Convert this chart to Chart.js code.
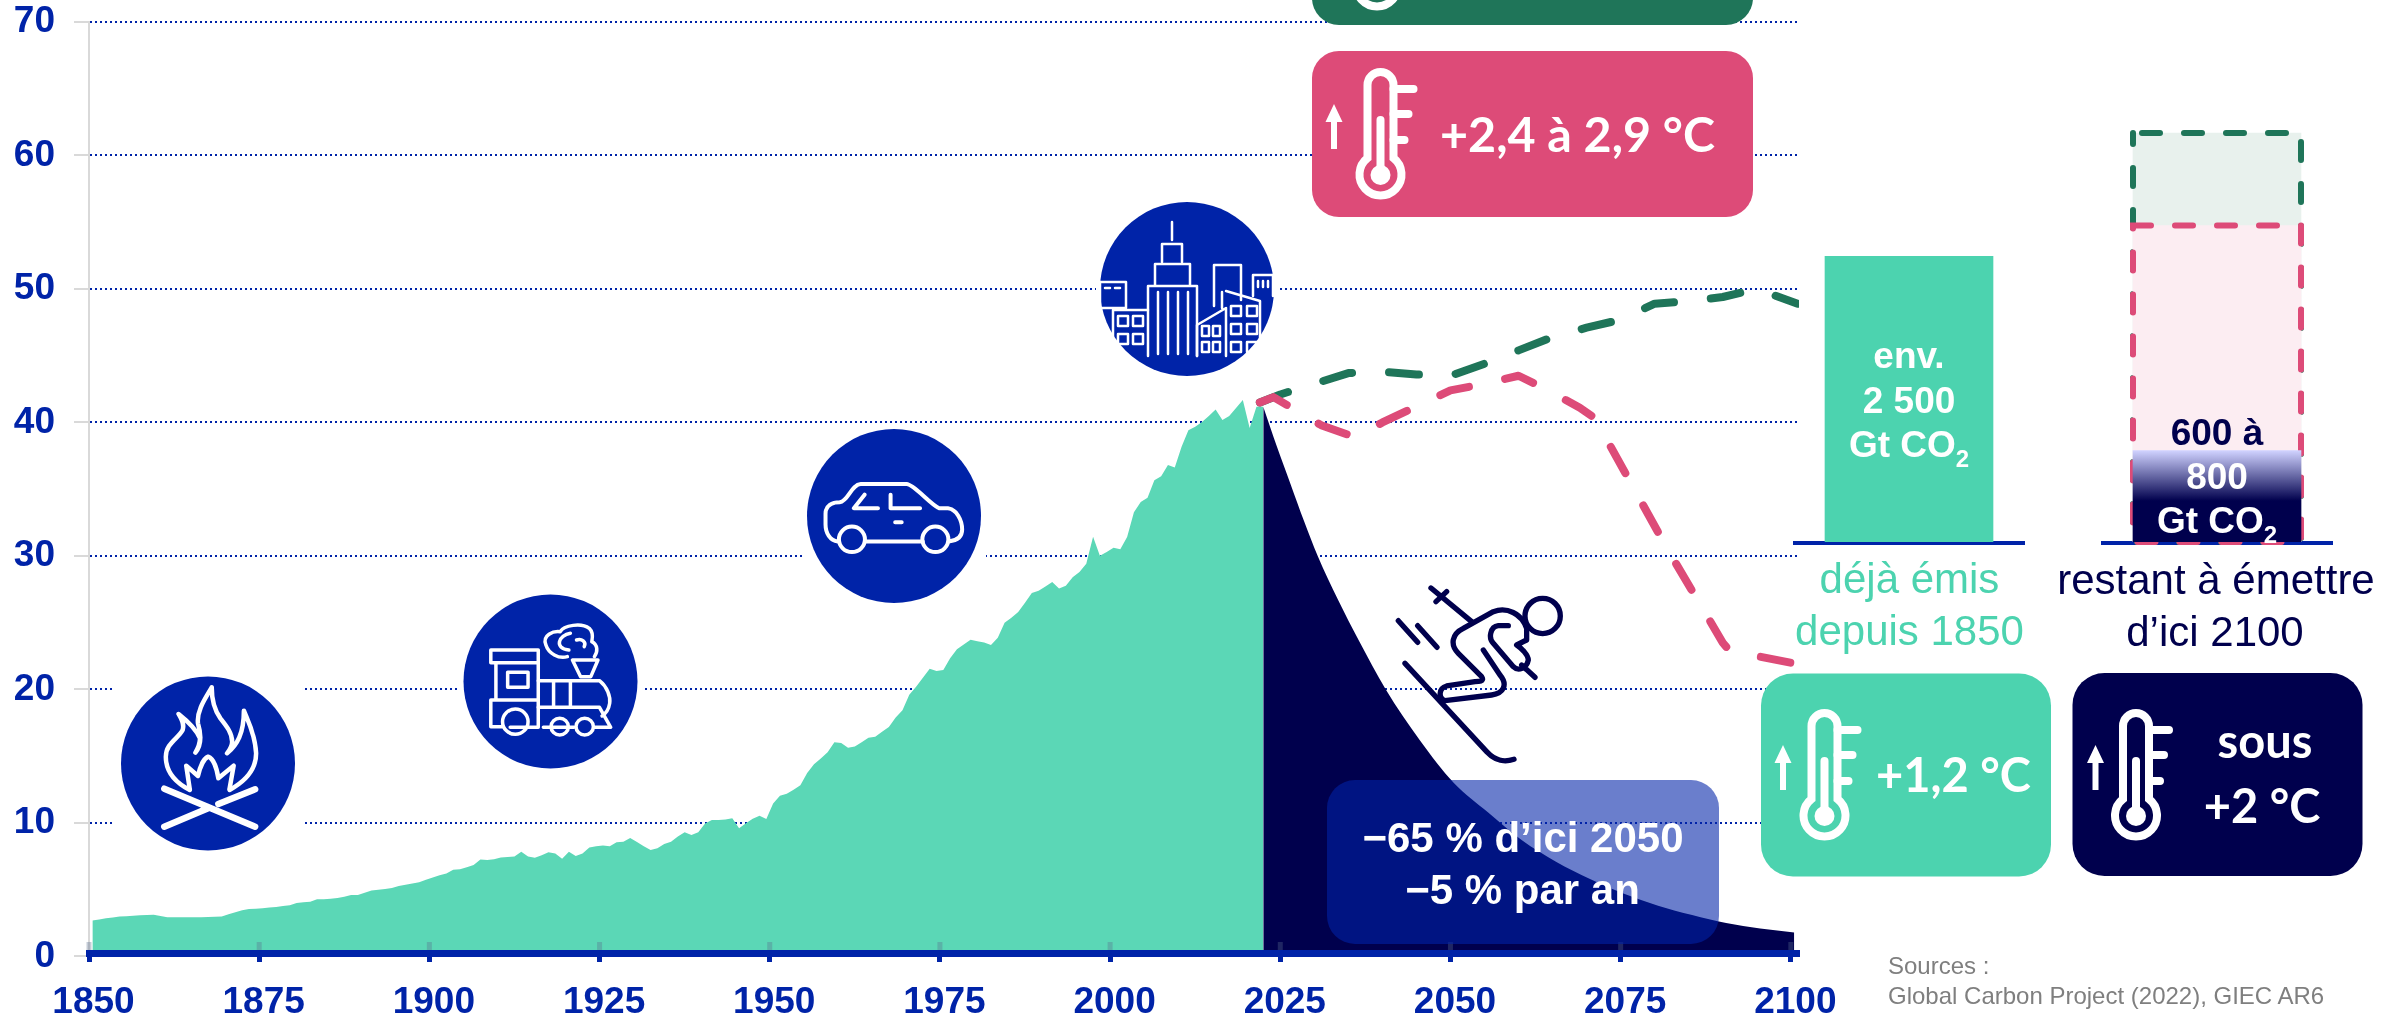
<!DOCTYPE html>
<html lang="fr">
<head>
<meta charset="utf-8">
<title>Émissions mondiales de CO2</title>
<script src="https://cdn.jsdelivr.net/npm/chart.js@4/dist/chart.umd.min.js"></script>
<style>
    html, body { margin: 0; padding: 0; background: #fff; }
    #stage { position: relative; width: 2399px; height: 1017px; overflow: hidden; }
    #stage canvas, #stage svg { position: absolute; }
    #mainChart { left: 0; top: 0; }
    #budgetChart { left: 1755px; top: 85px; }
    #overlay { left: 0; top: 0; }
    text { font-family: "Liberation Sans", Arial, sans-serif; }
    .ic * { vector-effect: non-scaling-stroke; fill: none; stroke: #fff; stroke-linecap: round; stroke-linejoin: round; }
    .big { font-family: Lato, sans-serif; font-weight: 700; font-size: 47px; fill: #fff; }
    .bar { font-weight: 700; font-size: 37px; fill: #fff; text-anchor: middle; }
    .cap { font-size: 42px; text-anchor: middle; }
    .src { font-size: 24px; fill: #7f7f7f; }
</style>
</head>
<body>
<div id="stage">
    <canvas id="mainChart" width="2399" height="1017"></canvas>
    <canvas id="budgetChart" width="616" height="472"></canvas>
    <svg id="overlay" width="2399" height="1017" viewBox="0 0 2399 1017">
        <defs>
            <g id="thermo" fill="none" stroke="#fff" stroke-width="8" stroke-linecap="round">
                <path d="M-13 90V17A13 13 0 0 1 13 17V90A21 21 0 1 1 -13 90Z"/>
                <path d="M13 21H33M13 46H28M13 72H24"/>
                <path d="M0 52V105"/>
                <circle cx="0" cy="107" r="10" fill="#fff" stroke="none"/>
            </g>
            <path id="arrow" fill="#fff" d="M0 36L8.5 54H3V81H-3V54H-8.5Z"/>
        </defs>

        <!-- pictos : fond blanc carre qui coupe la grille -->
        <rect x="115" y="670" width="187" height="187" fill="#fff"/>
        <rect x="458" y="589" width="185" height="186" fill="#fff"/>
        <rect x="802" y="423" width="184" height="186" fill="#fff"/>
        <rect x="1096" y="196" width="182" height="186" fill="#fff"/>
        <circle cx="208" cy="763.5" r="87" fill="#0023a8"/>
        <circle cx="550.5" cy="681.5" r="87" fill="#0023a8"/>
        <circle cx="894" cy="516" r="87" fill="#0023a8"/>
        <circle cx="1187" cy="289" r="87" fill="#0023a8"/>

        <!-- feu -->
        <g class="ic" transform="translate(0,500) scale(0.5102,0.3333)">
            <path style="stroke-width:4.5" d="M372 870C340 845 325 810 325 770C325 730 350 715 358 690C362 670 355 655 350 642C365 660 385 690 392 715C392 730 388 745 383 758C395 735 395 705 388 670C385 630 405 590 415 562C415 600 420 630 432 655C445 680 455 700 455 725C455 740 450 750 445 760C465 735 478 700 478 632C485 660 500 700 502 760C502 810 480 845 450 870"/>
            <path style="stroke-width:4.5" d="M372 868L365 797L388 828C392 800 400 775 408 770C418 775 425 805 428 835L458 797L450 866"/>
            <path style="stroke-width:6.5" d="M322 866L500 980M322 980L408 925M428 912L500 868"/>
        </g>
        <!-- train -->
        <g class="ic" transform="translate(0,500) scale(0.5102,0.3333)">
            <path style="stroke-width:3.5" d="M962 450H1055V488H962ZM972 488V600M1055 488V682H1000M962 600H1055M962 600V680H985"/>
            <path style="stroke-width:3.5" d="M995 517H1035V562H995Z"/>
            <path style="stroke-width:3.5" d="M1055 542H1175C1190 560 1197 590 1195 610C1193 630 1188 640 1180 648M1085 542V622M1118 542V622M1055 622H1175L1197 682H1165M1125 682H1065"/>
            <path style="stroke-width:3.5" d="M1122 480H1172L1158 530H1138Z"/>
            <ellipse style="stroke-width:3.5" cx="1010" cy="665" rx="25" ry="38"/>
            <ellipse style="stroke-width:3.5" cx="1097" cy="680" rx="17" ry="25"/>
            <ellipse style="stroke-width:3.5" cx="1146" cy="680" rx="17" ry="25"/>
            <path style="stroke-width:3.5" d="M1112 470C1095 478 1075 460 1070 435C1062 405 1085 392 1098 395C1105 375 1140 368 1155 385C1165 400 1160 420 1160 425C1172 435 1172 455 1165 470M1118 400C1095 405 1085 445 1115 450M1130 420C1140 415 1150 425 1145 440"/>
        </g>
        <!-- voiture -->
        <g class="ic" transform="translate(700,350) scale(0.3827,0.4255)">
            <path style="stroke-width:4" d="M360 450C340 448 328 430 328 410V385C328 365 345 358 365 358C388 355 395 316 420 315H540C560 316 600 362 625 372H648C670 374 685 400 685 422C685 440 672 448 650 450M432 450H582"/>
            <path style="stroke-width:4" d="M430 340L402 372H465M498 340V372H575M510 405H527"/>
            <ellipse style="stroke-width:4" cx="397" cy="445" rx="34" ry="30"/>
            <ellipse style="stroke-width:4" cx="615" cy="445" rx="34" ry="30"/>
        </g>
        <!-- ville -->
        <g class="ic">
            <path style="stroke-width:2.5" d="M1172 222V240M1162 262V244H1182V262M1155 285V264H1190V285M1148 356V286H1197V356M1158 292V354M1168 292V354M1178 292V354M1188 292V354"/>
            <path style="stroke-width:2.5" d="M1113 356V310H1148M1100 282H1126V308H1100ZM1105 288H1110M1115 288H1120M1118 316H1128V326H1118ZM1133 316H1143V326H1133ZM1118 334H1128V344H1118ZM1133 334H1143V344H1133Z"/>
            <path style="stroke-width:2.5" d="M1214 306V265H1241V300M1253 296V275H1273V296M1258 281V287M1263 281V287M1268 281V287"/>
            <path style="stroke-width:2.5" d="M1197 356V325L1226 308V356M1226 291L1260 301V352M1222 292V308"/>
            <path style="stroke-width:2.5" d="M1231 306H1241V316H1231ZM1247 306H1257V316H1247ZM1231 324H1241V334H1231ZM1247 324H1257V334H1247ZM1231 342H1241V352H1231ZM1247 342H1257V352H1247ZM1202 326H1209V336H1202ZM1213 326H1220V336H1213ZM1202 342H1209V352H1202ZM1213 342H1220V352H1213Z"/>
        </g>

        <!-- skieur -->
        <g transform="translate(1300,560) scale(0.3333)" fill="none" stroke="#00004d" stroke-width="16" stroke-linecap="round" stroke-linejoin="round">
            <circle cx="728" cy="168" r="53"/>
            <path d="M393 84L515 185M408 125L440 95M295 182L353 247M353 197L411 262"/>
            <path d="M315 310L560 575C585 602 610 608 642 598"/>
            <path d="M680 205C665 160 620 140 580 155L490 205C455 222 450 255 475 280L545 350C555 365 535 365 525 365L440 378C415 385 415 415 435 422L575 405C610 400 625 375 600 345L550 270"/>
            <path d="M625 197H595C570 200 565 235 580 250L640 320C655 335 680 325 685 300C685 285 665 265 650 255L680 240V210M665 315L705 352"/>
        </g>

        <!-- encadres temperature -->
        <rect x="1312" y="-141" width="441" height="166" rx="27" fill="#1f7559"/>
        <use href="#thermo" x="1377" y="-121"/>
        <rect x="1312" y="51" width="441" height="166" rx="27" fill="#dd4b78"/>
        <use href="#thermo" x="1380.5" y="68"/>
        <use href="#arrow" x="1334" y="68"/>
        <text class="big" x="1440" y="152" style="font-size:48.4px">+2,4 à 2,9 °C</text>

        <rect x="1761" y="673.5" width="290" height="203" rx="32" fill="#4cd3af"/>
        <use href="#thermo" x="1824.5" y="709"/>
        <use href="#arrow" x="1783" y="709"/>
        <text class="big" x="1876" y="792">+1,2 °C</text>

        <rect x="2072.5" y="673" width="290" height="203" rx="32" fill="#00004d"/>
        <use href="#thermo" x="2136" y="709"/>
        <use href="#arrow" x="2095.5" y="709"/>
        <text class="big" x="2265" y="758" text-anchor="middle">sous</text>
        <text class="big" x="2262" y="823" text-anchor="middle">+2 °C</text>

        <!-- encadre baisse -->
        <rect x="1327" y="780" width="392" height="164" rx="28" fill="#0023a8" fill-opacity="0.585"/>
        <text x="1523" y="852" text-anchor="middle" font-weight="700" font-size="42" fill="#fff">−65 % d’ici 2050</text>
        <text x="1522.5" y="903.5" text-anchor="middle" font-weight="700" font-size="42" fill="#fff">−5 % par an</text>

        <!-- textes des barres -->
        <text class="bar" x="1909" y="368">env.</text>
        <text class="bar" x="1909" y="412.5">2 500</text>
        <text class="bar" x="1909" y="457">Gt CO<tspan font-size="24" dy="10">2</tspan></text>
        <text class="bar" x="2217" y="444.5" style="fill:#00004d">600 à</text>
        <text class="bar" x="2217" y="488.5">800</text>
        <text class="bar" x="2217" y="533">Gt CO<tspan font-size="24" dy="10">2</tspan></text>

        <text class="cap" x="1909.5" y="593" fill="#4cd3af">déjà émis</text>
        <text class="cap" x="1909.5" y="644.5" fill="#4cd3af">depuis 1850</text>
        <text class="cap" x="2216" y="594" fill="#00004d">restant à émettre</text>
        <text class="cap" x="2215" y="646" fill="#00004d">d’ici 2100</text>

        <text class="src" x="1888" y="974">Sources :</text>
        <text class="src" x="1888" y="1004">Global Carbon Project (2022), GIEC AR6</text>
    </svg>
</div>

<script>
// émissions historiques, une valeur par an à partir de 1850
const histStart = 1850;
const histValues = [
    2.69, 2.77, 2.86, 2.92, 2.99, 3.02, 3.05, 3.08, 3.10, 3.12,
    3.03, 2.94, 2.94, 2.94, 2.94, 2.94, 2.94, 2.96, 2.97, 2.99,
    3.16, 3.31, 3.46, 3.56, 3.57, 3.61, 3.66, 3.70, 3.79, 3.84,
    4.00, 4.06, 4.10, 4.28, 4.29, 4.33, 4.38, 4.48, 4.60, 4.60,
    4.78, 4.95, 5.00, 5.05, 5.13, 5.28, 5.38, 5.46, 5.56, 5.74,
    5.91, 6.09, 6.21, 6.49, 6.54, 6.69, 6.86, 7.27, 7.22, 7.29,
    7.42, 7.46, 7.49, 7.84, 7.49, 7.39, 7.59, 7.80, 7.72, 7.32,
    7.84, 7.52, 7.72, 8.17, 8.25, 8.32, 8.25, 8.55, 8.60, 8.88,
    8.58, 8.25, 7.97, 8.10, 8.42, 8.60, 8.98, 9.31, 9.10, 9.31,
    9.96, 10.22, 10.22, 10.26, 10.35, 9.61, 9.98, 10.32, 10.55, 10.30,
    11.45, 12.04, 12.19, 12.49, 12.82, 13.75, 14.40, 14.83, 15.29, 16.04,
    15.99, 15.63, 15.73, 16.04, 16.39, 16.46, 16.84, 17.19, 17.90, 18.45,
    19.60, 20.20, 20.88, 21.56, 21.38, 21.46, 22.34, 23.02, 23.37, 23.72,
    23.62, 23.52, 23.34, 23.87, 25.00, 25.38, 25.81, 26.49, 27.22, 27.40,
    27.72, 28.05, 27.57, 27.77, 28.40, 28.80, 29.42, 31.45, 30.02, 30.30,
    30.62, 30.50, 31.43, 33.28, 34.04, 34.37, 35.68, 35.98, 36.81, 36.63,
    38.18, 39.42, 39.68, 40.03, 40.48, 40.98, 40.18, 40.48, 41.08, 41.68,
    39.58, 41.18, 41.18
];

// trajectoire de baisse
const declineYears = [2022, 2024, 2026, 2028, 2030, 2033, 2036, 2040, 2045, 2050, 2055, 2060, 2065, 2070, 2075, 2080, 2085, 2090, 2095, 2100];
const declineValues = [41.18, 38.2, 35.4, 32.6, 30, 26.7, 23.7, 20, 16.2, 13, 10.8, 8.7, 7.1, 5.8, 4.7, 3.8, 3.1, 2.5, 2.1, 1.8];

// scénarios
const greenYears = [2022, 2025, 2030, 2035, 2040, 2045, 2050, 2055, 2060, 2065, 2070, 2075, 2080, 2085, 2090, 2095, 2101];
const greenValues = [41.5, 42.1, 42.9, 43.7, 43.8, 43.6, 43.5, 44.4, 45.4, 46.4, 47.1, 47.7, 48.9, 49.1, 49.4, 50.0, 48.9];
const pinkYears = [2022, 2024, 2027, 2031, 2036, 2040, 2045, 2050, 2055, 2060, 2064, 2069, 2071, 2072, 2077, 2082, 2087, 2090, 2091, 2094, 2101];
const pinkValues = [41.5, 41.9, 41.0, 39.8, 38.9, 40.0, 41.2, 42.4, 42.9, 43.5, 42.5, 41.1, 40.4, 39.6, 35.0, 30.4, 26.1, 23.5, 22.9, 22.6, 21.9];

// axes
const xTicks = [1850, 1875, 1900, 1925, 1950, 1975, 2000, 2025, 2050, 2075, 2100];
const yTicks = [0, 10, 20, 30, 40, 50, 60, 70];

// budget carbone (Gt CO2)
const budgetLabels = ['déjà émis depuis 1850', 'restant à émettre'];
const emittedBudget = [2500, null];
const remainingBudget = [null, 800];
const pinkBudget = [null, 2770];
const greenBudget = [null, 3580];

const BLUE = '#0023a8', NAVY = '#00004d', GREEN = '#1f7559', PINK = '#dd4b78', FONT = '"Liberation Sans", Arial, sans-serif';

const pairs = (xs, ys, shift) => xs.map((x, i) => ({ x: x + shift, y: ys[i] }));
// les valeurs annuelles sont centrées dans leur année
const histPoints = histValues.map((v, i) => ({ x: histStart + i + 0.5, y: v }));

// petits repères gris posés sur l'axe des années
const axisMarks = {
    id: 'axisMarks',
    afterDatasetsDraw(chart) {
        const { ctx, scales: { x, y } } = chart;
        ctx.save();
        ctx.strokeStyle = 'rgba(90,110,140,0.35)';
        ctx.lineWidth = 5;
        xTicks.forEach(t => {
            const px = x.getPixelForValue(t);
            ctx.beginPath();
            ctx.moveTo(px, y.bottom - 11);
            ctx.lineTo(px, y.bottom);
            ctx.stroke();
        });
        ctx.restore();
    }
};

new Chart(document.getElementById('mainChart').getContext('2d'), {
    type: 'line',
    data: {
        datasets: [
            { data: pairs(pinkYears, pinkValues, 0), borderColor: PINK, borderWidth: 8, borderDash: [30, 37], borderCapStyle: 'round', borderJoinStyle: 'round', pointRadius: 0, fill: false, order: 1 },
            { data: pairs(greenYears, greenValues, 0), borderColor: GREEN, borderWidth: 8, borderDash: [30, 37], borderCapStyle: 'round', borderJoinStyle: 'round', pointRadius: 0, fill: false, order: 2 },
            { data: pairs(declineYears, declineValues, 0.5), borderWidth: 0, backgroundColor: NAVY, pointRadius: 0, fill: 'origin', cubicInterpolationMode: 'monotone', order: 3 },
            { data: histPoints, borderWidth: 0, backgroundColor: '#5bd7b6', pointRadius: 0, fill: 'origin', order: 4 }
        ]
    },
    options: {
        responsive: false,
        animation: false,
        layout: { autoPadding: false, padding: { top: 22, right: 600, left: 0, bottom: 0 } },
        plugins: { legend: { display: false }, tooltip: { enabled: false } },
        scales: {
            x: {
                type: 'linear',
                min: 1850,
                max: 2101.2,
                afterBuildTicks(s) { s.ticks = xTicks.map(v => ({ value: v })); },
                afterFit(s) { s.height = 64; },
                grid: { drawOnChartArea: false, color: BLUE, tickLength: 9, tickWidth: 5 },
                border: { color: BLUE, width: 7, z: 1 },
                ticks: { color: BLUE, font: { family: FONT, size: 37, weight: 'bold' }, padding: 19, labelOffset: 4.5, maxRotation: 0, autoSkip: false, callback: v => String(v) }
            },
            y: {
                // le bas de la zone de tracé est le haut du trait d'axe, un peu au-dessus de 0
                min: 0.26,
                max: 70,
                afterBuildTicks(s) { s.ticks = yTicks.map(v => ({ value: v })); },
                afterFit(s) { s.width = 89; s.paddingTop = 0; s.paddingBottom = 0; },
                grid: { color: BLUE, lineWidth: 2, tickColor: '#d9d9d9', tickLength: 15, tickWidth: 2 },
                border: { color: '#d9d9d9', width: 2, dash: [2, 3] },
                ticks: { color: BLUE, font: { family: FONT, size: 37, weight: 'bold' }, padding: 19, callback: v => String(v) }
            }
        }
    },
    plugins: [axisMarks]
});

// dégradé du haut de la barre "restant"
function remainingFill(c) {
    const { chart } = c;
    if (!chart.chartArea) return NAVY;
    const top = chart.scales.y.getPixelForValue(800), base = chart.scales.y.getPixelForValue(0);
    const g = chart.ctx.createLinearGradient(0, top, 0, base);
    g.addColorStop(0, '#d0d2ff');
    g.addColorStop(0.55, NAVY);
    g.addColorStop(1, NAVY);
    return g;
}

// contours pointillés et lignes de base des barres
const budgetOutline = {
    id: 'budgetOutline',
    beforeDatasetsDraw(chart) {
        const { ctx, scales: { x, y } } = chart;
        ctx.save();
        ctx.fillStyle = BLUE;
        budgetLabels.forEach((l, i) => ctx.fillRect(x.getPixelForValue(i) - 116, y.getPixelForValue(0) - 1, 232, 4));
        ctx.restore();
    },
    afterDatasetDraw(chart, args) {
        const ds = chart.data.datasets[args.index];
        if (!ds.dashColor) return;
        const { ctx } = chart;
        const el = args.meta.data[1].getProps(['x', 'y', 'base', 'width']);
        const l = el.x - el.width / 2, r = el.x + el.width / 2;
        ctx.save();
        ctx.strokeStyle = ds.dashColor;
        ctx.lineWidth = 6;
        ctx.lineCap = 'round';
        ctx.setLineDash([18, 24]);
        ctx.lineDashOffset = ds.dashOffset;
        ctx.beginPath();
        ctx.moveTo(l, el.y);
        ctx.lineTo(r, el.y);
        ctx.lineTo(r, el.base);
        ctx.lineTo(l, el.base);
        ctx.closePath();
        ctx.stroke();
        ctx.restore();
    }
};

new Chart(document.getElementById('budgetChart').getContext('2d'), {
    type: 'bar',
    data: {
        labels: budgetLabels,
        datasets: [
            { data: remainingBudget, backgroundColor: remainingFill, order: 1 },
            { data: emittedBudget, backgroundColor: '#4cd3af', order: 2 },
            { data: pinkBudget, backgroundColor: '#fcedf2', dashColor: PINK, dashOffset: 0, order: 3 },
            { data: greenBudget, backgroundColor: '#e8f1ed', dashColor: GREEN, dashOffset: -9, order: 4 }
        ]
    },
    options: {
        responsive: false,
        animation: false,
        layout: { padding: { bottom: 15 } },
        datasets: { bar: { barThickness: 168, grouped: false } },
        plugins: { legend: { display: false }, tooltip: { enabled: false } },
        scales: {
            x: { display: false },
            y: { display: false, min: 0, max: 4000 }
        }
    },
    plugins: [budgetOutline]
});
</script>
</body>
</html>
